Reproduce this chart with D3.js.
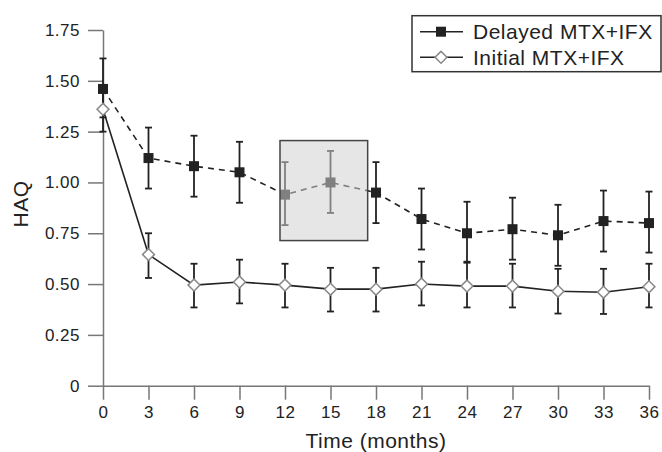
<!DOCTYPE html>
<html>
<head>
<meta charset="utf-8">
<script src="https://cdn.jsdelivr.net/npm/d3@7"></script>
<style>
  body { margin: 0; background: #fff; }
  text { font-family: "Liberation Sans", Arial, sans-serif; fill: #222; letter-spacing: 0.5px; }
</style>
</head>
<body>
<script>
var width = 662;
var height = 452;

// data
var months = [0, 3, 6, 9, 12, 15, 18, 21, 24, 27, 30, 33, 36];
var delayedMean = [1.46, 1.12, 1.08, 1.05, 0.94, 1.00, 0.95, 0.82, 0.75, 0.77, 0.74, 0.81, 0.80];
var delayedLow  = [1.32, 0.97, 0.93, 0.90, 0.79, 0.85, 0.80, 0.67, 0.61, 0.62, 0.59, 0.66, 0.655];
var delayedHigh = [1.61, 1.27, 1.23, 1.20, 1.10, 1.155, 1.10, 0.97, 0.905, 0.925, 0.89, 0.96, 0.955];
var initialMean = [1.36, 0.645, 0.495, 0.51, 0.495, 0.475, 0.475, 0.50, 0.49, 0.49, 0.465, 0.46, 0.487];
var initialLow  = [1.25, 0.53, 0.385, 0.405, 0.385, 0.365, 0.365, 0.395, 0.385, 0.385, 0.355, 0.353, 0.385];
var initialHigh = [1.47, 0.75, 0.60, 0.62, 0.60, 0.58, 0.58, 0.61, 0.605, 0.60, 0.575, 0.575, 0.60];
var yTicks = [0, 0.25, 0.5, 0.75, 1.0, 1.25, 1.5, 1.75];
var highlightMonths = [11.67, 17.45];   // grey box, x range
var highlightHaq = [0.714, 1.206];      // grey box, y range
var seriesNames = ["Delayed MTX+IFX", "Initial MTX+IFX"];

var svg = d3.select("body").append("svg")
    .attr("width", width)
    .attr("height", height);

var x = d3.scaleLinear().domain([0, 36]).range([103, 649]);
var y = d3.scaleLinear().domain([0, 1.75]).range([385.7, 30]);

// axes
var xAxis = d3.axisBottom(x).tickValues(months).tickSizeInner(14).tickSizeOuter(0).tickPadding(6);
var yAxis = d3.axisLeft(y).tickValues(yTicks).tickSizeInner(15).tickSizeOuter(0).tickPadding(8)
    .tickFormat(function (d) { return d === 0 ? "0" : d3.format(".2f")(d); });

var gx = svg.append("g").attr("transform", "translate(0," + y(0) + ")").call(xAxis);
var gy = svg.append("g").attr("transform", "translate(" + x(0) + ",0)").call(yAxis);
[gx, gy].forEach(function (g) {
    g.selectAll("path, line").attr("stroke", "#777").attr("stroke-width", 1.5);
    g.selectAll("text").attr("font-size", 17).attr("fill", "#222")
        .style("font-family", "'Liberation Sans', Arial, sans-serif");
});

svg.append("text")
    .attr("x", 376).attr("y", 448)
    .attr("text-anchor", "middle")
    .attr("font-size", 21)
    .text("Time (months)");

svg.append("text")
    .attr("transform", "translate(28,204) rotate(-90)")
    .attr("text-anchor", "middle")
    .attr("font-size", 21)
    .text("HAQ");

// lines
var line = d3.line()
    .x(function (d) { return x(d[0]); })
    .y(function (d) { return y(d[1]); });

var delayed = months.map(function (m, i) { return [m, delayedMean[i], delayedLow[i], delayedHigh[i]]; });
var initial = months.map(function (m, i) { return [m, initialMean[i], initialLow[i], initialHigh[i]]; });

svg.append("path").datum(initial).attr("d", line)
    .attr("fill", "none").attr("stroke", "#222").attr("stroke-width", 1.6);
svg.append("path").datum(delayed).attr("d", line)
    .attr("fill", "none").attr("stroke", "#222").attr("stroke-width", 1.6)
    .attr("stroke-dasharray", "6,5");

function errorBars(data) {
    var g = svg.append("g").attr("stroke", "#222").attr("stroke-width", 1.8);
    var bars = g.selectAll("g").data(data).enter().append("g");
    bars.append("line")
        .attr("x1", function (d) { return x(d[0]); })
        .attr("x2", function (d) { return x(d[0]); })
        .attr("y1", function (d) { return y(d[2]); })
        .attr("y2", function (d) { return y(d[3]); });
    [2, 3].forEach(function (k) {
        bars.append("line")
            .attr("x1", function (d) { return x(d[0]) - 3.5; })
            .attr("x2", function (d) { return x(d[0]) + 3.5; })
            .attr("y1", function (d) { return y(d[k]); })
            .attr("y2", function (d) { return y(d[k]); });
    });
}
errorBars(initial);
errorBars(delayed);

// markers
svg.selectAll(".diamond").data(initial).enter().append("rect")
    .attr("class", "diamond")
    .attr("x", -4.2).attr("y", -4.2).attr("width", 8.4).attr("height", 8.4)
    .attr("transform", function (d) { return "translate(" + x(d[0]) + "," + y(d[1]) + ") rotate(45)"; })
    .attr("fill", "#fff").attr("stroke", "#888").attr("stroke-width", 1.5);

svg.selectAll(".square").data(delayed).enter().append("rect")
    .attr("class", "square")
    .attr("x", function (d) { return x(d[0]) - 5; })
    .attr("y", function (d) { return y(d[1]) - 5; })
    .attr("width", 10).attr("height", 10)
    .attr("fill", "#222");

// highlight box (translucent, greys what lies under it)
svg.append("rect")
    .attr("x", x(highlightMonths[0]))
    .attr("y", y(highlightHaq[1]))
    .attr("width", x(highlightMonths[1]) - x(highlightMonths[0]))
    .attr("height", y(highlightHaq[0]) - y(highlightHaq[1]))
    .attr("fill", "rgb(209,209,211)").attr("fill-opacity", 0.54)
    .attr("stroke", "#444").attr("stroke-width", 1.5);

// legend
var legend = svg.append("g");
legend.append("rect")
    .attr("x", 412).attr("y", 15.7).attr("width", 249).attr("height", 56)
    .attr("fill", "#fff").attr("stroke", "#333").attr("stroke-width", 1.5);
var rows = legend.selectAll(".row").data(seriesNames).enter().append("g")
    .attr("class", "row")
    .attr("transform", function (d, i) { return "translate(0," + (31.7 + i * 25.6) + ")"; });
rows.append("line").attr("x1", 420).attr("x2", 463)
    .attr("stroke", "#222").attr("stroke-width", 1.6);
rows.filter(function (d, i) { return i === 0; }).append("rect")
    .attr("x", 436).attr("y", -5).attr("width", 10).attr("height", 10).attr("fill", "#222");
rows.filter(function (d, i) { return i === 1; }).append("rect")
    .attr("x", -4.2).attr("y", -4.2).attr("width", 8.4).attr("height", 8.4)
    .attr("transform", "translate(441,0) rotate(45)")
    .attr("fill", "#fff").attr("stroke", "#888").attr("stroke-width", 1.5);
rows.append("text")
    .attr("x", 473).attr("y", 7.5)
    .attr("font-size", 21)
    .text(function (d) { return d; });
</script>
</body>
</html>
